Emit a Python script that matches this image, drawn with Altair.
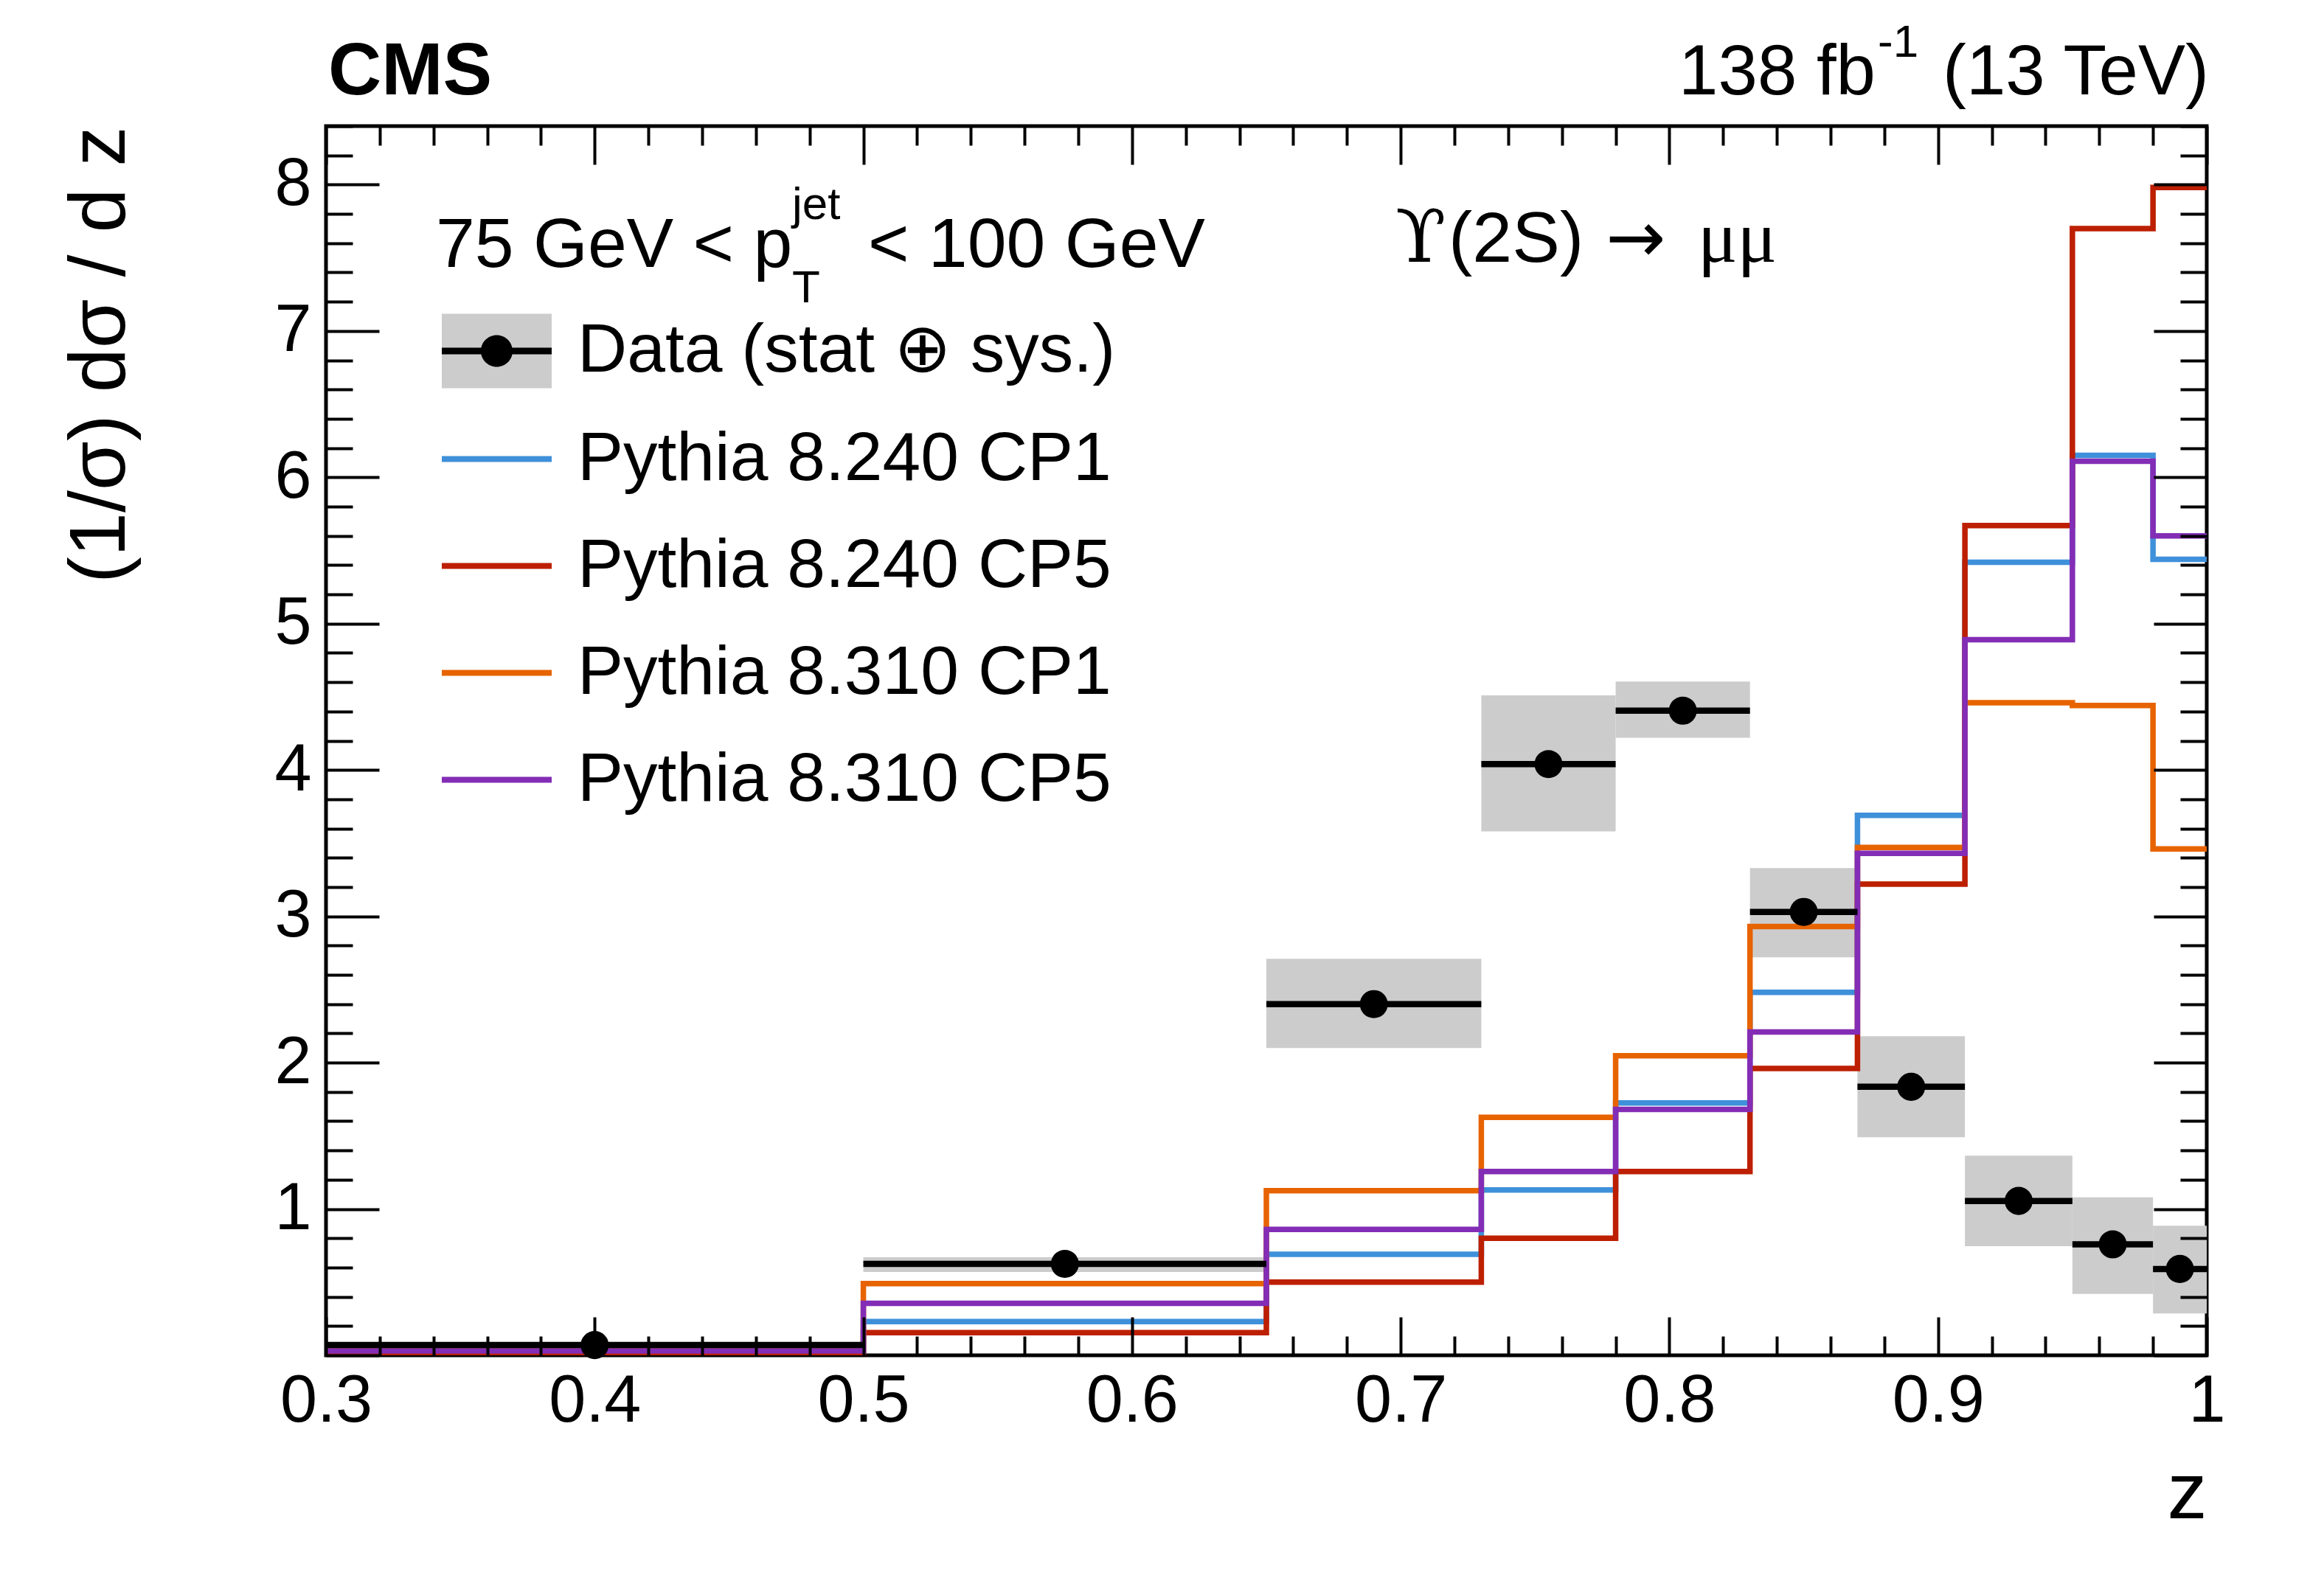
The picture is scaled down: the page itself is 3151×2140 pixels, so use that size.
import altair as alt
import pandas as pd

FONT = "Liberation Sans"

# ---------------- data ----------------
edges = [0.3, 0.5, 0.65, 0.73, 0.78, 0.83, 0.87, 0.91, 0.95, 0.98, 1.0]

data_label = "Data (stat \u2295 sys.)"
marker_key = "data marker"
data_x = [0.40, 0.575, 0.69, 0.755, 0.805, 0.85, 0.89, 0.93, 0.965, 0.99]
data_y = [0.07, 0.625, 2.40, 4.04, 4.405, 3.03, 1.835, 1.055, 0.758, 0.59]
err_lo = [0.05, 0.57, 2.10, 3.58, 4.22, 2.72, 1.49, 0.746, 0.42, 0.286]
err_hi = [0.09, 0.67, 2.71, 4.51, 4.605, 3.33, 2.18, 1.364, 1.08, 0.886]

series_names = ["Pythia 8.240 CP1", "Pythia 8.240 CP5", "Pythia 8.310 CP1", "Pythia 8.310 CP5"]
series_colors = ["#3f90da", "#bd1f01", "#e76300", "#832db6"]
p8240_cp1 = [0.03, 0.23, 0.69, 1.13, 1.725, 2.48, 3.69, 5.42, 6.15, 5.44]
p8240_cp5 = [0.005, 0.155, 0.50, 0.80, 1.256, 1.96, 3.22, 5.67, 7.70, 7.98]
p8310_cp1 = [0.055, 0.49, 1.125, 1.626, 2.047, 2.93, 3.47, 4.46, 4.44, 3.46]
p8310_cp5 = [0.03, 0.355, 0.86, 1.256, 1.68, 2.21, 3.43, 4.89, 6.11, 5.60]
mc_series = [p8240_cp1, p8240_cp5, p8310_cp1, p8310_cp5]

x_label_values = [0.3, 0.4, 0.5, 0.6, 0.7, 0.8, 0.9, 1.0]
y_label_values = [1, 2, 3, 4, 5, 6, 7, 8]
x_major = x_label_values
x_minor = [round(0.3 + 0.02 * i, 2) for i in range(36) if i % 5 != 0]
y_major = [0, 1, 2, 3, 4, 5, 6, 7, 8]
y_minor = [round(0.2 * i, 1) for i in range(43) if i % 5 != 0]

# ---------------- tables ----------------
data_df = pd.DataFrame({
    "lo": edges[:-1], "hi": edges[1:], "x": data_x, "y": data_y,
    "elo": err_lo, "ehi": err_hi,
    "label": [data_label] * len(data_x),
    "marker": [marker_key] * len(data_x),
})

rows = []
for name, vals in zip(series_names, mc_series):
    for i, v in enumerate(vals):
        rows.append({"series": name, "edge": edges[i], "value": v})
    rows.append({"series": name, "edge": edges[-1], "value": vals[-1]})
mc_df = pd.DataFrame(rows)

# ---------------- layout ----------------
W, H = 2550, 1667
xs = alt.Scale(domain=[0.3, 1.0], nice=False, zero=False)
ys = alt.Scale(domain=[0, 8.4], nice=False, zero=False)


def tick_axis(orient, values, size):
    return alt.Axis(orient=orient, values=values, tickSize=size, offset=-size,
                    labels=False, domain=False, grid=False, ticks=True,
                    tickWidth=4, tickColor="black", title=None, zindex=1)


x_lab_axis = alt.Axis(
    orient="bottom", values=x_label_values, ticks=False, domain=False, grid=False,
    labelFont=FONT, labelFontSize=90, labelColor="black", labelPadding=18,
    labelFlush=False, labelOverlap=False,
    labelExpr="datum.value == 1 ? '1' : format(datum.value, '.1f')",
    title="z", titleFont=FONT, titleFontSize=108, titleFontWeight="normal",
    titleColor="black", titleX=W, titleY=220, titleAlign="right",
    titleBaseline="alphabetic", zindex=1)

y_lab_axis = alt.Axis(
    orient="left", values=y_label_values, ticks=False, domain=False, grid=False,
    labelFont=FONT, labelFontSize=90, labelColor="black", labelPadding=20,
    labelFlush=False, labelOverlap=False, format="d",
    title="(1/\u03c3) d\u03c3 / d z", titleFont=FONT, titleFontSize=108,
    titleFontWeight="normal", titleColor="black", titleAngle=270,
    titleX=-274, titleY=0, titleAlign="right", titleBaseline="alphabetic", zindex=1)

BOX_PATH = "M-1,-0.678H1V0.678H-1Z"
DOT_PATH = ("M-1,-0.06H1V0.06H-1Z "
            "M0.289,0A0.289,0.289,0,1,1,-0.289,0A0.289,0.289,0,1,1,0.289,0Z")

common_leg = dict(title=None, orient="none", padding=0, offset=0, clipHeight=145,
                  rowPadding=0, labelFont=FONT, labelFontSize=93, labelColor="black",
                  labelLimit=3000)

boxes = alt.Chart(data_df).mark_rect().encode(
    x=alt.X("lo:Q", scale=xs, axis=x_lab_axis),
    x2="hi:Q",
    y=alt.Y("elo:Q", scale=ys, axis=y_lab_axis),
    y2="ehi:Q",
    fill=alt.Fill("label:N", scale=alt.Scale(domain=[data_label], range=["#cccccc"]),
                  legend=alt.Legend(legendX=157, legendY=232.5, symbolType=BOX_PATH,
                                    symbolSize=22201, symbolStrokeWidth=0,
                                    labelOffset=35, **common_leg)),
)

lines = alt.Chart(mc_df).mark_line(interpolate="step-after", strokeWidth=7.5,
                                   strokeJoin="miter", strokeCap="butt", clip=True).encode(
    x=alt.X("edge:Q", scale=xs, axis=tick_axis("bottom", x_major, 52)),
    y=alt.Y("value:Q", scale=ys, axis=tick_axis("left", y_major, 72)),
    stroke=alt.Stroke("series:N", scale=alt.Scale(domain=series_names, range=series_colors),
                      legend=alt.Legend(legendX=153, legendY=379, symbolType="stroke",
                                        symbolSize=22201, symbolStrokeWidth=8,
                                        labelOffset=31, **common_leg)),
)

data_rules = alt.Chart(data_df).mark_rule(color="black", strokeWidth=8.5).encode(
    x=alt.X("lo:Q", scale=xs, axis=tick_axis("bottom", x_minor, 26)),
    x2="hi:Q",
    y=alt.Y("y:Q", scale=ys, axis=tick_axis("left", y_minor, 36)),
)

points = alt.Chart(data_df).mark_point(filled=True, color="black", size=1450,
                                       shape="circle", strokeWidth=0).encode(
    x=alt.X("x:Q", scale=xs, axis=tick_axis("top", x_major, 52)),
    y=alt.Y("y:Q", scale=ys, axis=tick_axis("right", y_major, 72)),
    opacity=alt.Opacity("marker:N", scale=alt.Scale(domain=[marker_key], range=[1, 1]),
                        legend=alt.Legend(legendX=157, legendY=232.5, symbolType=DOT_PATH,
                                          symbolSize=22201, symbolStrokeWidth=0,
                                          symbolFillColor="black", labelOffset=35,
                                          labelExpr="''", **common_leg)),
)

minor_ticks = alt.Chart(data_df).mark_point(opacity=0).encode(
    x=alt.X("x:Q", scale=xs, axis=tick_axis("top", x_minor, 26)),
    y=alt.Y("y:Q", scale=ys, axis=tick_axis("right", y_minor, 36)),
)


def label(text, x, y, size, align="left", weight="normal", font=FONT):
    return alt.Chart(pd.DataFrame({"t": [text]})).mark_text(
        x=x, y=y, align=align, baseline="alphabetic", font=font, fontSize=size,
        fontWeight=weight, color="black").encode(text="t:N")


texts = [
    label("CMS", 3, -43, 100, weight="bold"),
    label("138 fb", 2101, -43, 96, align="right"),
    label("-1", 2104, -94, 62),
    label("(13 TeV)", 2553, -43, 96, align="right"),
    label("75 GeV < p", 149, 191, 95),
    label("jet", 632, 126, 62),
    label("T", 632, 239, 62),
    label("< 100 GeV", 735, 191, 95),
    label("\u03d2", 1450, 184, 100, font="DejaVu Serif"),
    label("(2S)", 1522, 184, 97),
    label("\u2192", 1735, 184, 97, font="DejaVu Sans"),
    label("\u03bc\u03bc", 1860, 184, 100, font="Liberation Serif"),
]

chart = alt.layer(boxes, lines, data_rules, points, minor_ticks, *texts).resolve_axis(
    x="independent", y="independent"
).properties(
    width=W, height=H,
    autosize=alt.AutoSizeParams(type="none"),
    padding={"left": 434, "top": 163, "right": 151, "bottom": 294},
    background="white",
).configure_view(stroke="black", strokeWidth=5)

chart.save("out.html", embed_options={"renderer": "svg", "actions": False})
